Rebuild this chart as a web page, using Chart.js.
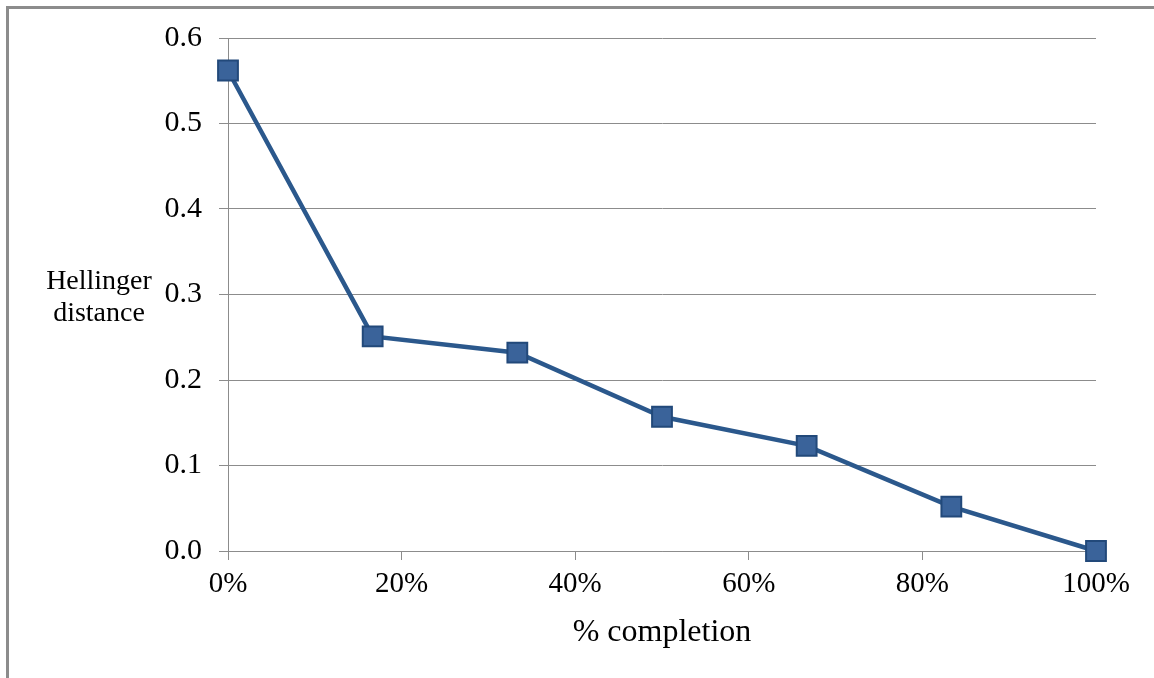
<!DOCTYPE html>
<html>
<head>
<meta charset="utf-8">
<script src="https://cdn.jsdelivr.net/npm/chart.js@4/dist/chart.umd.min.js"></script>
<style>
  html, body { margin: 0; padding: 0; background: #fff; }
  #wrap { position: relative; width: 1154px; height: 678px; overflow: hidden; }
  #frame { position: absolute; left: 6px; top: 6px; width: 1200px; height: 700px;
           border-left: 3px solid #8c8c8c; border-top: 3px solid #8c8c8c; box-sizing: border-box; }
  canvas { position: absolute; left: 0; top: 0; }
</style>
</head>
<body>
<div id="wrap">
  <div id="frame"></div>
  <canvas id="c" width="1154" height="678"></canvas>
</div>
<script>
// fraction of the task completed (0..1) and the Hellinger distance at each step
const completion = [0, 1/6, 2/6, 3/6, 4/6, 5/6, 1];
const hellinger = [0.562, 0.251, 0.232, 0.157, 0.123, 0.052, 0.0];
const xTicks = [0, 0.2, 0.4, 0.6, 0.8, 1.0];
const yTicks = [0.0, 0.1, 0.2, 0.3, 0.4, 0.5, 0.6];
const yLabel = ['Hellinger', 'distance'];
const xLabel = '% completion';

const serif = '"Liberation Serif", "Times New Roman", serif';
const axisGrey = '#8c8c8c';

// side caption for the value axis, written horizontally to the left of the ticks
const sideCaption = {
  id: 'sideCaption',
  afterDraw(chart) {
    const { ctx, chartArea } = chart;
    const midY = (chartArea.top + chartArea.bottom) / 2 + 3;
    ctx.save();
    ctx.fillStyle = '#000';
    ctx.font = '28px ' + serif;
    ctx.textAlign = 'center';
    ctx.textBaseline = 'middle';
    ctx.fillText(yLabel[0], 99, midY - 16);
    ctx.fillText(yLabel[1], 99, midY + 16);
    ctx.restore();
  }
};

new Chart(document.getElementById('c'), {
  type: 'line',
  data: {
    datasets: [{
      data: completion.map((x, i) => ({ x, y: hellinger[i] })),
      borderColor: '#2b588c',
      borderWidth: 4.5,
      pointStyle: 'rect',
      pointRadius: 14,
      pointHoverRadius: 14,
      pointBackgroundColor: '#3a639a',
      pointBorderColor: '#22497a',
      pointBorderWidth: 2,
      tension: 0,
      clip: false
    }]
  },
  options: {
    responsive: false,
    animation: false,
    events: [],
    layout: { padding: { top: 38, right: 58, bottom: 0, left: 0 } },
    plugins: { legend: { display: false }, tooltip: { enabled: false } },
    scales: {
      x: {
        type: 'linear',
        min: 0, max: 1,
        afterBuildTicks(scale) { scale.ticks = xTicks.map(v => ({ value: v })); },
        afterFit(scale) { scale.height = 127; },
        grid: { drawOnChartArea: false, drawTicks: true, tickLength: 9, tickColor: axisGrey, color: axisGrey },
        border: { display: true, color: axisGrey, width: 1 },
        ticks: {
          color: '#000',
          font: { family: serif, size: 29 },
          padding: 7,
          maxRotation: 0,
          callback: v => Math.round(v * 100) + '%'
        },
        title: {
          display: true,
          text: xLabel,
          color: '#000',
          font: { family: serif, size: 32 },
          padding: { top: 4, bottom: 26 }
        }
      },
      y: {
        min: 0, max: 0.6,
        afterBuildTicks(scale) { scale.ticks = yTicks.map(v => ({ value: v })); },
        afterFit(scale) { scale.width = 228; },
        grid: { color: axisGrey, tickColor: axisGrey, tickLength: 9, lineWidth: 1 },
        border: { display: true, color: axisGrey, width: 1 },
        ticks: {
          color: '#000',
          font: { family: serif, size: 30 },
          padding: 17,
          callback: v => Number(v).toFixed(1)
        }
      }
    }
  },
  plugins: [sideCaption]
});
</script>
</body>
</html>
